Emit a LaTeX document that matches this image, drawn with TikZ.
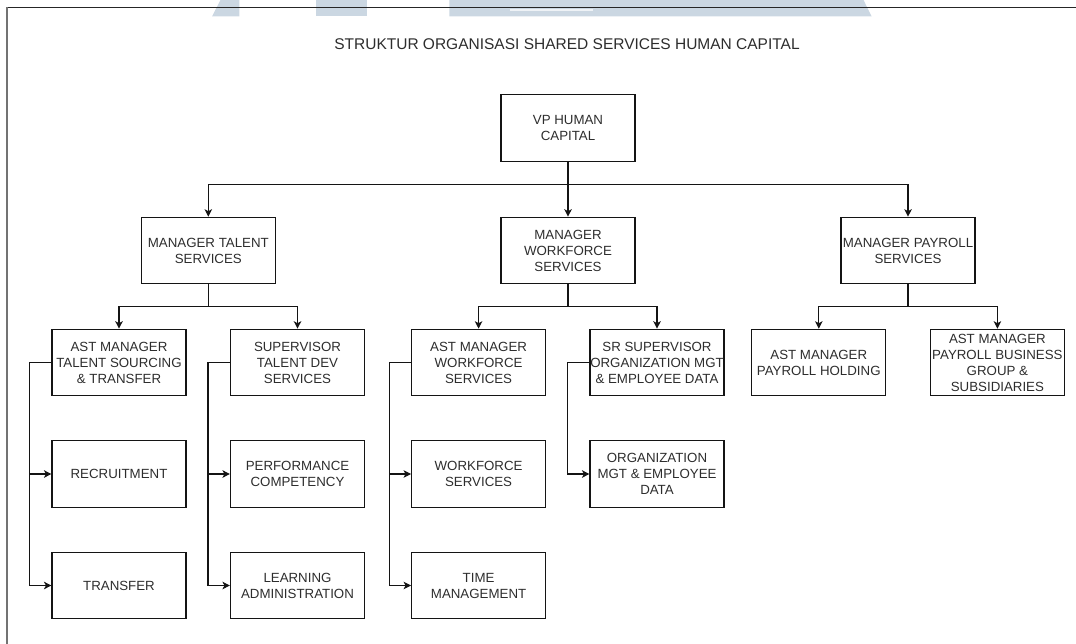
\documentclass[tikz,border=0pt]{standalone}
\usepackage{fontspec}
\setmainfont{Liberation Sans}
\usetikzlibrary{arrows.meta}
\definecolor{wm}{RGB}{203,215,226}
\definecolor{wmlight}{RGB}{238,242,246}
\definecolor{txt}{RGB}{45,45,45}
\definecolor{ln}{RGB}{20,20,20}
\begin{document}
\begin{tikzpicture}[x=1pt,y=-1pt,
  box/.style={draw=ln, line width=1.1pt, minimum width=134pt, minimum height=66.5pt,
    inner sep=0pt, align=center, text=txt, font=\fontsize{13.3}{16}\selectfont},
  arr/.style={draw=ln, line width=1.1pt, -{Stealth[length=7.5pt,width=7.5pt,inset=2pt]}},
  titletext/.style={text=txt, inner sep=0pt, font=\fontsize{15.5}{18}\selectfont}]
\useasboundingbox (0,0) rectangle (1076,644);
\clip (0,0) rectangle (1076,644);
% watermark
\fill[wm] (212,16.5) -- (221,-1) -- (239.3,-1) -- (239.3,16.5) -- cycle;
\fill[wm] (316,-1) rectangle (366.7,16.5);
\fill[wm] (449.4,-1) -- (863,-1) -- (871.7,16.5) -- (449.4,16.5) -- cycle;
\fill[wmlight] (509.6,8.6) rectangle (592.8,11.4);
% frame
\draw[black!85, line width=1.3pt] (1080,7.5) -- (6.5,7.5);
\draw[black!55, line width=2pt] (6.5,7.5) -- (6.5,650);
% title
\node[titletext] (title) at (567,44) {STRUKTUR ORGANISASI SHARED SERVICES HUMAN CAPITAL};
% level 1
\node[box] (vp) at (568,128) {VP HUMAN\\CAPITAL};
% level 2
\node[box] (mt) at (208.3,250.5) {MANAGER TALENT\\SERVICES};
\node[box] (mwf) at (568,250.5) {MANAGER\\WORKFORCE\\SERVICES};
\node[box] (mp) at (908,250.5) {MANAGER PAYROLL\\SERVICES};
% level 3
\node[box] (at) at (119,362.5) {AST MANAGER\\TALENT SOURCING\\\& TRANSFER};
\node[box] (sup) at (297.5,362.5) {SUPERVISOR\\TALENT DEV\\SERVICES};
\node[box] (awf) at (478.6,362.5) {AST MANAGER\\WORKFORCE\\SERVICES};
\node[box] (srs) at (657,362.5) {SR SUPERVISOR\\ORGANIZATION MGT\\\& EMPLOYEE DATA};
\node[box] (ph) at (818.8,362.5) {AST MANAGER\\PAYROLL HOLDING};
\node[box] (pbg) at (997.4,362.5) {AST MANAGER\\PAYROLL BUSINESS\\GROUP \&\\SUBSIDIARIES};
% level 4
\node[box] (rec) at (119,474) {RECRUITMENT};
\node[box] (perf) at (297.5,474) {PERFORMANCE\\COMPETENCY};
\node[box] (wfs) at (478.6,474) {WORKFORCE\\SERVICES};
\node[box] (org) at (657,474) {ORGANIZATION\\MGT \& EMPLOYEE\\DATA};
% level 5
\node[box] (tra) at (119,585.5) {TRANSFER};
\node[box] (learn) at (297.5,585.5) {LEARNING\\ADMINISTRATION};
\node[box] (time) at (478.6,585.5) {TIME\\MANAGEMENT};
% connectors level 1 -> 2
\draw[arr] (vp.south) -- (mwf.north);
\draw[arr] (vp.south) -- ++(0,22.75) -| (mt.north);
\draw[arr] (vp.south) -- ++(0,22.75) -| (mp.north);
% level 2 -> 3
\draw[arr] (mt.south) -- ++(0,22.25) -| (at.north);
\draw[arr] (mt.south) -- ++(0,22.25) -| (sup.north);
\draw[arr] (mwf.south) -- ++(0,22.25) -| (awf.north);
\draw[arr] (mwf.south) -- ++(0,22.25) -| (srs.north);
\draw[arr] (mp.south) -- ++(0,22.25) -| (ph.north);
\draw[arr] (mp.south) -- ++(0,22.25) -| (pbg.north);
% side connectors
\draw[arr] (at.west) -- ++(-22,0) |- (rec.west);
\draw[arr] (at.west) -- ++(-22,0) |- (tra.west);
\draw[arr] (sup.west) -- ++(-22,0) |- (perf.west);
\draw[arr] (sup.west) -- ++(-22,0) |- (learn.west);
\draw[arr] (awf.west) -- ++(-22,0) |- (wfs.west);
\draw[arr] (awf.west) -- ++(-22,0) |- (time.west);
\draw[arr] (srs.west) -- ++(-22,0) |- (org.west);
\end{tikzpicture}
\end{document}
